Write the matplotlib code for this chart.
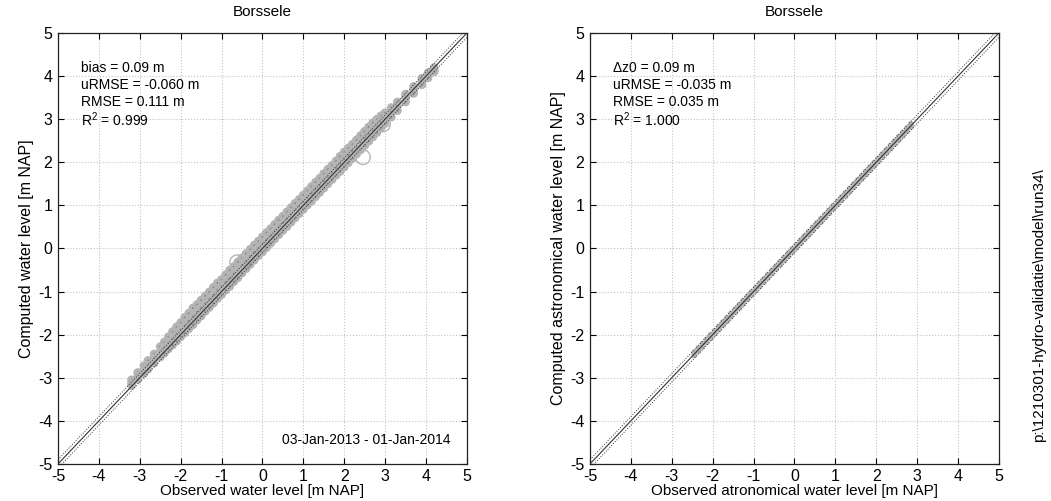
import numpy as np
import matplotlib.pyplot as plt

plt.rcParams['font.family'] = ['Liberation Sans', 'DejaVu Sans']
plt.rcParams['mathtext.default'] = 'regular'
plt.rcParams['axes.unicode_minus'] = False

# Left panel: observed vs computed water level (upper, middle, lower edge)
obs_left = [-3.2, -3.05, -2.9, -2.8, -2.65, -2.5, -2.4, -2.3, -2.2, -2.1, -2.0, -1.9, -1.8, -1.7,
            -1.6, -1.5, -1.4, -1.3, -1.2, -1.1, -1.0, -0.9, -0.8, -0.7, -0.6, -0.5, -0.4, -0.3,
            -0.2, -0.1, 0.0, 0.1, 0.2, 0.3, 0.4, 0.5, 0.6, 0.7, 0.8, 0.9, 1.0, 1.1, 1.2, 1.3,
            1.4, 1.5, 1.6, 1.7, 1.8, 1.9, 2.0, 2.1, 2.2, 2.3, 2.4, 2.5, 2.6, 2.7, 2.8, 2.9,
            3.0, 3.15, 3.3, 3.5, 3.7, 3.9, 4.05, 4.2]
comp_left_hi = [-3.05, -2.88, -2.72, -2.60, -2.45, -2.28, -2.17, -2.05, -1.93, -1.82, -1.72, -1.60,
                -1.50, -1.38, -1.30, -1.20, -1.10, -1.01, -0.90, -0.80, -0.72, -0.61, -0.50, -0.42,
                -0.31, -0.22, -0.12, -0.02, 0.08, 0.17, 0.27, 0.37, 0.46, 0.56, 0.66, 0.75, 0.85,
                0.95, 1.05, 1.14, 1.24, 1.34, 1.44, 1.54, 1.63, 1.74, 1.84, 1.93, 2.03, 2.14, 2.24,
                2.33, 2.42, 2.52, 2.62, 2.72, 2.82, 2.92, 3.00, 3.08, 3.15, 3.27, 3.40, 3.58, 3.76,
                3.95, 4.08, 4.20]
comp_left_mid = [-3.12, -2.97, -2.82, -2.71, -2.55, -2.40, -2.30, -2.19, -2.10, -1.98, -1.88, -1.79,
                 -1.68, -1.58, -1.47, -1.38, -1.27, -1.18, -1.08, -0.97, -0.88, -0.78, -0.69, -0.58,
                 -0.48, -0.38, -0.29, -0.18, -0.09, 0.01, 0.11, 0.20, 0.30, 0.40, 0.49, 0.59, 0.69,
                 0.79, 0.89, 0.98, 1.08, 1.18, 1.28, 1.38, 1.47, 1.57, 1.67, 1.77, 1.87, 1.97, 2.07,
                 2.17, 2.26, 2.36, 2.46, 2.56, 2.66, 2.75, 2.85, 2.94, 3.03, 3.17, 3.31, 3.50, 3.68,
                 3.87, 4.02, 4.14]
comp_left_lo = [-3.18, -3.04, -2.90, -2.80, -2.66, -2.52, -2.43, -2.33, -2.24, -2.15, -2.05, -1.96,
                -1.86, -1.77, -1.66, -1.57, -1.46, -1.37, -1.27, -1.16, -1.07, -0.97, -0.88, -0.77,
                -0.68, -0.57, -0.47, -0.37, -0.27, -0.17, -0.08, 0.02, 0.12, 0.22, 0.32, 0.42, 0.51,
                0.61, 0.71, 0.81, 0.91, 1.01, 1.10, 1.20, 1.30, 1.40, 1.50, 1.60, 1.70, 1.79, 1.89,
                1.99, 2.09, 2.19, 2.29, 2.39, 2.49, 2.59, 2.69, 2.80, 2.90, 3.05, 3.20, 3.40, 3.60,
                3.80, 3.96, 4.10]
# a few isolated large circles
obs_ring = [-0.62, 2.95, 2.46]
comp_ring = [-0.32, 2.88, 2.12]

# Right panel: astronomical water level (narrow band)
obs_right = [-2.45, -2.35, -2.25, -2.15, -2.05, -1.95, -1.85, -1.75, -1.65, -1.55, -1.45, -1.35,
             -1.25, -1.15, -1.05, -0.95, -0.85, -0.75, -0.65, -0.55, -0.45, -0.35, -0.25, -0.15,
             -0.05, 0.05, 0.15, 0.25, 0.35, 0.45, 0.55, 0.65, 0.75, 0.85, 0.95, 1.05, 1.15, 1.25,
             1.35, 1.45, 1.55, 1.65, 1.75, 1.85, 1.95, 2.05, 2.15, 2.25, 2.35, 2.45, 2.55, 2.65,
             2.75, 2.85]
comp_right_hi = [-2.41, -2.31, -2.21, -2.11, -2.01, -1.91, -1.81, -1.71, -1.61, -1.51, -1.41, -1.31,
                 -1.21, -1.11, -1.01, -0.91, -0.81, -0.71, -0.61, -0.51, -0.41, -0.31, -0.21, -0.11,
                 -0.01, 0.09, 0.19, 0.29, 0.39, 0.49, 0.59, 0.69, 0.79, 0.89, 0.99, 1.09, 1.19, 1.29,
                 1.39, 1.49, 1.59, 1.69, 1.79, 1.89, 1.99, 2.09, 2.19, 2.29, 2.39, 2.49, 2.59, 2.69,
                 2.79, 2.89]
comp_right_lo = [-2.48, -2.38, -2.28, -2.18, -2.08, -1.98, -1.88, -1.78, -1.68, -1.58, -1.48, -1.38,
                 -1.28, -1.18, -1.08, -0.98, -0.88, -0.78, -0.68, -0.58, -0.48, -0.38, -0.28, -0.18,
                 -0.08, 0.02, 0.12, 0.22, 0.32, 0.42, 0.52, 0.62, 0.72, 0.82, 0.92, 1.02, 1.12, 1.22,
                 1.32, 1.42, 1.52, 1.62, 1.72, 1.82, 1.92, 2.02, 2.12, 2.22, 2.32, 2.42, 2.52, 2.62,
                 2.72, 2.82]

ticks = [-5, -4, -3, -2, -1, 0, 1, 2, 3, 4, 5]
stats_left = ['bias = 0.09 m', 'uRMSE = -0.060 m', 'RMSE = 0.111 m', 'R$^2$ = 0.999']
stats_right = ['\u0394z0 = 0.09 m', 'uRMSE = -0.035 m', 'RMSE = 0.035 m', 'R$^2$ = 1.000']

fig = plt.figure(figsize=(10.51, 5.01), dpi=100)
ax1 = fig.add_axes([0.0552, 0.074, 0.389, 0.860])
ax2 = fig.add_axes([0.5614, 0.074, 0.389, 0.860])

grey = '#b4b4b4'


def setup(ax, xlabel, ylabel, stats):
    ax.set_xlim(-5, 5)
    ax.set_ylim(-5, 5)
    ax.set_xticks(ticks)
    ax.set_yticks(ticks)
    ax.grid(True, linestyle=':', color='#c4c4c4', linewidth=0.8)
    ax.set_axisbelow(True)
    ax.tick_params(direction='in', top=True, right=True, labelsize=11.5, length=4, pad=4)
    for s in ax.spines.values():
        s.set_linewidth(0.9)
        s.set_color('#222222')
    ax.set_xlabel(xlabel, fontsize=11, labelpad=0)
    ax.set_ylabel(ylabel, fontsize=11.5, labelpad=3)
    ax.set_title('Borssele', fontsize=11, pad=12)
    ln = [-5, 5]
    ax.plot(ln, ln, color='#333333', linewidth=0.8, zorder=4)
    ax.plot(ln, [-4.9, 5.1], color='#333333', linewidth=0.7, linestyle=':', zorder=4)
    ax.plot(ln, [-5.1, 4.9], color='#333333', linewidth=0.7, linestyle=':', zorder=4)
    for i, t in enumerate(stats):
        ax.text(-4.45, 4.2 - i * 0.4, t, fontsize=10, va='center', ha='left')


setup(ax1, 'Observed water level [m NAP]', 'Computed water level [m NAP]', stats_left)
setup(ax2, 'Observed atronomical water level [m NAP]',
      'Computed astronomical water level [m NAP]', stats_right)

for comp in (comp_left_hi, comp_left_mid, comp_left_lo):
    ax1.scatter(obs_left, comp, s=40, color=grey, edgecolors='none', zorder=3)
    ax1.scatter(obs_left, comp, s=2, color='#8a8a8a', edgecolors='none', zorder=3)
ax1.scatter(obs_ring, comp_ring, s=110, facecolors='none', edgecolors=grey, linewidths=1.0, zorder=3)
ax1.text(4.6, -4.45, '03-Jan-2013 - 01-Jan-2014', fontsize=10, ha='right', va='center')

for comp in (comp_right_hi, comp_right_lo):
    ax2.scatter(obs_right, comp, s=18, color=grey, edgecolors='none', zorder=3)

fig.text(0.989, 0.39, 'p:\\1210301-hydro-validatie\\model\\run34\\', rotation=90,
         fontsize=11, ha='center', va='center')

fig.savefig('out.png', dpi=100)
